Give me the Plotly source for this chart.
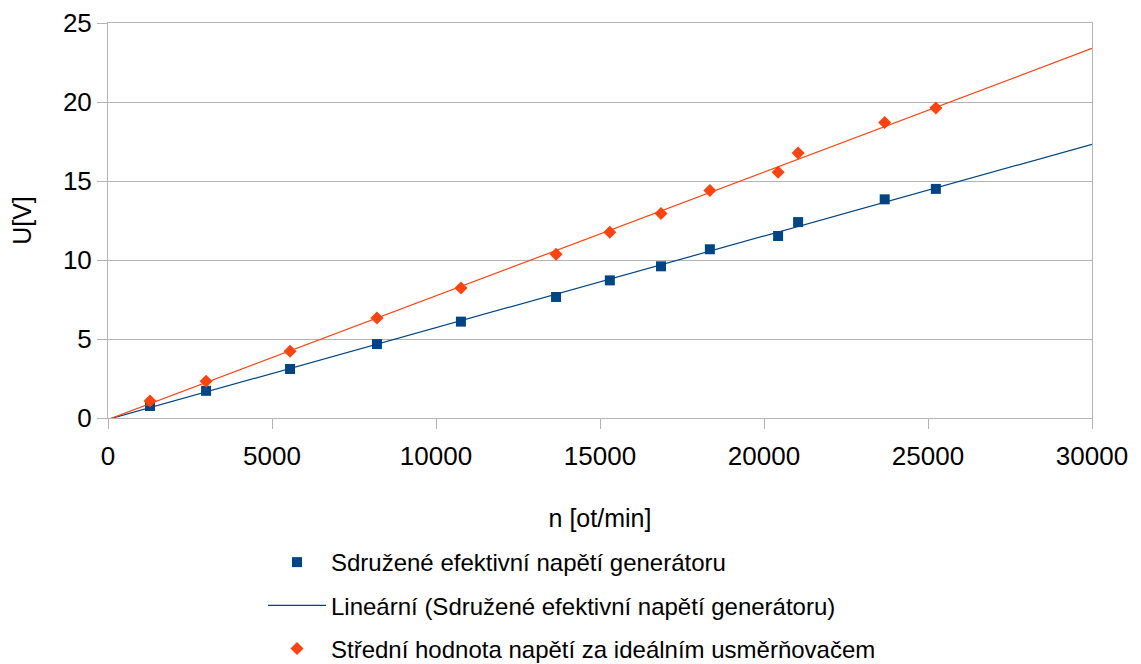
import numpy as np
import plotly.graph_objects as go

# Data
n_rpm = [1280, 2990, 5550, 8200, 10760, 13660, 15300, 16860, 18350, 20430, 21040, 23680, 25240]
u_eff = [0.76, 1.72, 3.10, 4.68, 6.10, 7.66, 8.71, 9.60, 10.68, 11.52, 12.40, 13.84, 14.50]
u_avg = [1.08, 2.32, 4.22, 6.33, 8.23, 10.36, 11.76, 12.95, 14.40, 15.55, 16.77, 18.70, 19.62]

name_eff = "Sdružené efektivní napětí generátoru"
name_trend = "Lineární (Sdružené efektivní napětí generátoru)"
name_avg = "Střední hodnota napětí za ideálním usměrňovačem"
name_trend_avg = "Lineární (Střední hodnota napětí za ideálním usměrňovačem)"

x_range = [0, 30000]
y_range = [0, 25]

BLUE = "#004586"
ORANGE = "#ff420e"
FONT = "Liberation Sans, Arial, sans-serif"

x = np.array(n_rpm, dtype=float)
k1, q1 = np.polyfit(x, np.array(u_eff), 1)
k2, q2 = np.polyfit(x, np.array(u_avg), 1)
tx = np.array(x_range, dtype=float)

fig = go.Figure()
fig.add_trace(go.Scatter(x=n_rpm, y=u_eff, mode="markers", name=name_eff,
                         marker=dict(symbol="square", size=10, color=BLUE),
                         legendgroup="a"))
fig.add_trace(go.Scatter(x=tx, y=k1 * tx + q1, mode="lines", name=name_trend,
                         line=dict(color=BLUE, width=1.2), legendgroup="b"))
fig.add_trace(go.Scatter(x=n_rpm, y=u_avg, mode="markers", name=name_avg,
                         marker=dict(symbol="diamond", size=10, color=ORANGE),
                         legendgroup="c"))
fig.add_trace(go.Scatter(x=tx, y=k2 * tx + q2, mode="lines", name=name_trend_avg,
                         line=dict(color=ORANGE, width=1.2), legendgroup="d",
                         showlegend=False))

# page body has an 8px margin, so the figure is offset by 8px
fig.update_layout(
    width=1133, height=700,
    margin=dict(l=100, r=49, t=15, b=290, autoexpand=False),
    paper_bgcolor="white", plot_bgcolor="white",
    font=dict(family=FONT, size=24, color="#000000"),
    legend=dict(x=0.1575, y=-0.3089, xanchor="left", yanchor="top",
                traceorder="grouped", tracegroupgap=9,
                itemwidth=58,
                font=dict(size=24), bgcolor="rgba(0,0,0,0)"),
    showlegend=True,
)
fig.update_xaxes(range=x_range, dtick=5000, tick0=0, tickformat="d",
                 showgrid=False, showline=True, linecolor="#b3b3b3", linewidth=1,
                 mirror=True, ticks="outside", ticklen=10, tickcolor="#b3b3b3",
                 zeroline=False, ticklabelstandoff=5, tickfont=dict(size=26),
                 title=dict(text="n [ot/min]", standoff=39, font=dict(size=25)))
fig.update_yaxes(range=y_range, dtick=5, tick0=0,
                 showgrid=True, gridcolor="#b3b3b3", gridwidth=1,
                 showline=True, linecolor="#b3b3b3", linewidth=1,
                 mirror=True, ticks="outside", ticklen=10, tickcolor="#b3b3b3",
                 zeroline=False, tickfont=dict(size=26),
                 title=dict(text="U[V]", standoff=28, font=dict(size=25)))

fig.write_html("out.html")
